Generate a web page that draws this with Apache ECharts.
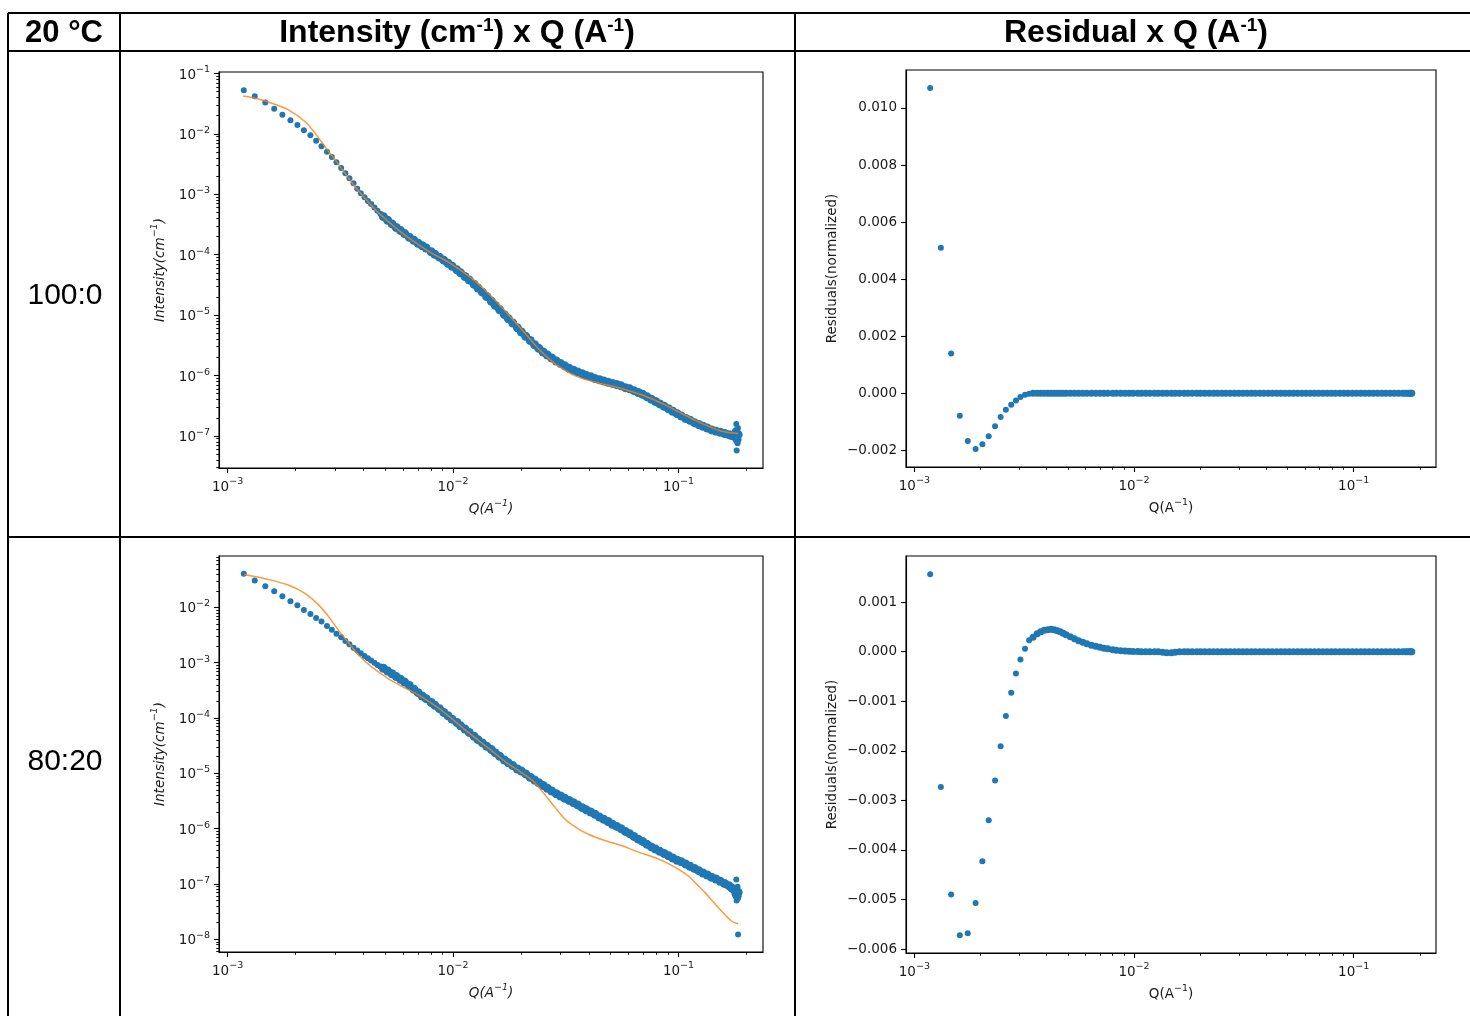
<!DOCTYPE html>
<html><head><meta charset="utf-8">
<script src="https://cdn.jsdelivr.net/npm/echarts@6/dist/echarts.min.js"></script>
<style>html,body{margin:0;padding:0;background:#fff}#c{width:1470px;height:1016px}</style>
</head><body><div id="c"></div>
<script>
// ---------- DATA ----------
const qPts = [
  0.00118, 0.00132, 0.00147, 0.00161, 0.00175, 0.00190, 0.00204, 0.00218, 0.00233, 0.00247,
  0.00261, 0.00276, 0.00290, 0.00304, 0.00319, 0.00333, 0.00347, 0.00362, 0.00376, 0.00390,
  0.00405, 0.00419, 0.00433, 0.00448, 0.00462, 0.00476, 0.00491,
  0.00513, 0.00536, 0.0056, 0.00585, 0.0061, 0.0064, 0.0067, 0.0070, 0.0073, 0.0076,
  0.0080, 0.0083, 0.0087, 0.0091, 0.0095, 0.0099, 0.0104, 0.0108, 0.0113, 0.0118,
  0.0124, 0.0129, 0.0135, 0.0141, 0.0148, 0.0154, 0.0161, 0.0169, 0.0176, 0.0184,
  0.0193, 0.0201, 0.0210, 0.0220, 0.0230, 0.0240, 0.0251, 0.0262, 0.0274, 0.0287,
  0.0300, 0.0313, 0.0327, 0.0342, 0.0357, 0.0374, 0.0390, 0.0408, 0.0426, 0.0446,
  0.0466, 0.0487, 0.0509, 0.0532, 0.0556, 0.0581, 0.0607, 0.0634, 0.0663, 0.0693,
  0.0724, 0.0757, 0.0791, 0.0826, 0.0864, 0.0903, 0.0943, 0.0986, 0.1030, 0.1077,
  0.1125, 0.1176, 0.1229, 0.1284, 0.1342, 0.1402, 0.1466, 0.1532, 0.1601, 0.1673,
  0.1720, 0.1760, 0.1800, 0.1820, 0.1840
];
const int100 = [
  0.0527, 0.0419, 0.0332, 0.0261, 0.0207, 0.0169, 0.0140, 0.0115, 0.0095, 0.00773,
  0.00624, 0.00507, 0.00414, 0.00338, 0.00274, 0.00224, 0.00185, 0.00153, 0.00124, 0.00104,
  8.91e-4, 7.76e-4, 6.92e-4, 6.03e-4, 5.37e-4, 4.79e-4, 4.27e-4,
  3.72e-4, 3.24e-4, 2.82e-4, 2.51e-4, 2.24e-4, 1.95e-4, 1.74e-4, 1.55e-4, 1.41e-4, 1.29e-4,
  1.12e-4, 1.02e-4, 9.12e-5, 8.13e-5, 7.24e-5, 6.46e-5, 5.62e-5, 5.01e-5, 4.37e-5, 3.80e-5,
  3.24e-5, 2.82e-5, 2.40e-5, 2.04e-5, 1.70e-5, 1.45e-5, 1.23e-5, 1.02e-5, 8.71e-6, 7.41e-6,
  6.17e-6, 5.25e-6, 4.47e-6, 3.80e-6, 3.24e-6, 2.82e-6, 2.45e-6, 2.19e-6, 1.95e-6, 1.74e-6,
  1.58e-6, 1.45e-6, 1.32e-6, 1.23e-6, 1.15e-6, 1.07e-6, 1.00e-6, 9.55e-7, 8.91e-7, 8.51e-7,
  8.13e-7, 7.76e-7, 7.41e-7, 7.08e-7, 6.76e-7, 6.31e-7, 6.03e-7, 5.62e-7, 5.25e-7, 4.90e-7,
  4.47e-7, 4.07e-7, 3.72e-7, 3.39e-7, 3.09e-7, 2.82e-7, 2.57e-7, 2.34e-7, 2.14e-7, 1.95e-7,
  1.82e-7, 1.66e-7, 1.55e-7, 1.45e-7, 1.35e-7, 1.26e-7, 1.20e-7, 1.15e-7, 1.10e-7, 1.05e-7,
  1.02e-7, 1.00e-7, 1.17e-7, 8.71e-8, 1.05e-7
];
const int80 = [
  0.0406, 0.0308, 0.0241, 0.0196, 0.01595, 0.0130, 0.0110, 0.00896, 0.0076, 0.00645,
  0.00554, 0.00464, 0.00393, 0.00333, 0.0029, 2.48e-3, 2.16e-3, 1.86e-3, 1.66e-3, 1.48e-3,
  1.32e-3, 1.20e-3, 1.10e-3, 1.00e-3, 9.12e-4, 8.51e-4, 7.94e-4,
  7.08e-4, 6.31e-4, 5.62e-4, 5.01e-4, 4.47e-4, 3.89e-4, 3.31e-4, 2.88e-4, 2.51e-4, 2.24e-4,
  1.91e-4, 1.70e-4, 1.48e-4, 1.26e-4, 1.10e-4, 9.55e-5, 8.32e-5, 7.24e-5, 6.31e-5, 5.50e-5,
  4.68e-5, 4.07e-5, 3.55e-5, 3.09e-5, 2.69e-5, 2.34e-5, 2.04e-5, 1.74e-5, 1.55e-5, 1.38e-5,
  1.20e-5, 1.10e-5, 9.77e-6, 8.51e-6, 7.59e-6, 6.76e-6, 6.03e-6, 5.37e-6, 4.79e-6, 4.27e-6,
  3.89e-6, 3.55e-6, 3.24e-6, 2.95e-6, 2.69e-6, 2.40e-6, 2.19e-6, 2.00e-6, 1.82e-6, 1.62e-6,
  1.48e-6, 1.35e-6, 1.20e-6, 1.10e-6, 1.00e-6, 8.91e-7, 8.13e-7, 7.24e-7, 6.46e-7, 5.89e-7,
  5.25e-7, 4.68e-7, 4.27e-7, 3.89e-7, 3.55e-7, 3.24e-7, 2.95e-7, 2.69e-7, 2.51e-7, 2.29e-7,
  2.09e-7, 1.91e-7, 1.74e-7, 1.58e-7, 1.45e-7, 1.32e-7, 1.23e-7, 1.12e-7, 1.02e-7, 9.33e-8,
  8.51e-8, 7.94e-8, 6.61e-8, 6.03e-8, 7.08e-8
];
const res100 = [
  0.0107, 0.0051, 0.0014, -0.00078, -0.00167, -0.00195, -0.00178, -0.0015, -0.00115, -0.00083,
  -0.00057, -0.0004, -0.00025, -0.00013, -0.00005, -0.00001, 0, 0, 0, 0,
  0, 0, 0, 0, 0, 0, 0,
  0, 0, 0, 0, 0, 0, 0, 0, 0, 0,
  0, 0, 0, 0, 0, 0, 0, 0, 0, 0,
  0, 0, 0, 0, 0, 0, 0, 0, 0, 0,
  0, 0, 0, 0, 0, 0, 0, 0, 0, 0,
  0, 0, 0, 0, 0, 0, 0, 0, 0, 0,
  0, 0, 0, 0, 0, 0, 0, 0, 0, 0,
  0, 0, 0, 0, 0, 0, 0, 0, 0, 0,
  0, 0, 0, 0, 0, 0, 0, 0, 0, 0,
  0, 0, 0, 0, 0
];
const res80 = [
  0.00156, -0.00273, -0.0049, -0.00572, -0.00568, -0.00507, -0.00423, -0.0034, -0.0026, -0.00191,
  -0.0013, -0.00083, -0.00044, -0.00016, 0.00006, 0.00023, 0.00029, 0.00036, 0.0004, 0.00043,
  0.00044, 0.00045, 0.00044, 0.00042, 0.0004, 0.00037, 0.00034,
  0.0003, 0.00026, 0.00022, 0.00019, 0.00016, 0.00013, 0.00011, 0.00009, 0.00007, 0.00006,
  0.00004, 0.00003, 0.00002, 0.000015, 0.00001, 0.000005, 0.000003, 0, 0, 0,
  0, 0, -0.00001, -0.00002, -0.00002, -0.00001, 0, 0, 0, 0,
  0, 0, 0, 0, 0, 0, 0, 0, 0, 0,
  0, 0, 0, 0, 0, 0, 0, 0, 0, 0,
  0, 0, 0, 0, 0, 0, 0, 0, 0, 0,
  0, 0, 0, 0, 0, 0, 0, 0, 0, 0,
  0, 0, 0, 0, 0, 0, 0, 0, 0, 0,
  0, 0, 0, 0, 0
];
// scattered points at the very end of the Q range
const qEnd = [0.1805, 0.1812, 0.1828, 0.1835, 0.1838];
const int100End = [1.58e-7, 5.75e-8, 7.59e-8, 1.35e-7, 9.33e-8];
const int80End = [1.20e-7, 5.01e-8, 8.91e-8, 5.50e-8, 1.22e-8];
// model fits (orange)
const fitQ100 = [0.00117, 0.00133, 0.00157, 0.00187, 0.00221, 0.00245, 0.00271, 0.00301, 0.00333, 0.00369,
  0.0041, 0.0046, 0.0052, 0.006, 0.007, 0.008, 0.009, 0.010, 0.012, 0.014, 0.016, 0.018, 0.020, 0.022, 0.024,
  0.027, 0.030, 0.035, 0.040, 0.045, 0.050, 0.060, 0.070, 0.080, 0.090, 0.100, 0.120, 0.140, 0.160, 0.184];
const fitI100 = [0.0424, 0.0388, 0.0321, 0.0248, 0.0159, 0.0101, 0.0061, 0.00365, 0.00219, 0.00132,
  8.32e-4, 5.25e-4, 3.47e-4, 2.24e-4, 1.48e-4, 1.07e-4, 8.51e-5, 6.76e-5, 4.17e-5, 2.51e-5, 1.51e-5, 9.33e-6, 6.03e-6, 3.98e-6, 2.75e-6,
  1.82e-6, 1.35e-6, 9.77e-7, 8.32e-7, 7.41e-7, 6.76e-7, 5.62e-7, 4.68e-7, 3.80e-7, 3.09e-7, 2.51e-7, 1.78e-7, 1.38e-7, 1.17e-7, 1.10e-7];
const fitQ80 = [0.00118, 0.00147, 0.00187, 0.00221, 0.00254, 0.00281, 0.0031, 0.00344, 0.00381, 0.00437,
  0.00518, 0.00614, 0.00728, 0.00863, 0.0102, 0.0121, 0.0144, 0.0171, 0.0202, 0.0224, 0.024, 0.0263, 0.0284,
  0.0316, 0.0355, 0.0398, 0.0468, 0.0562, 0.0661, 0.0794, 0.0912, 0.1023, 0.111, 0.120, 0.132, 0.1445, 0.1585, 0.1718, 0.184];
const fitI80 = [0.0394, 0.0330, 0.0251, 0.0178, 0.0110, 6.76e-3, 3.89e-3, 2.29e-3, 1.38e-3, 8.32e-4,
  5.13e-4, 3.47e-4, 2.40e-4, 1.51e-4, 8.71e-5, 4.90e-5, 2.82e-5, 1.62e-5, 1.02e-5, 7.59e-6, 5.62e-6, 3.55e-6, 2.40e-6,
  1.45e-6, 1.02e-6, 7.94e-7, 6.17e-7, 4.90e-7, 3.80e-7, 2.95e-7, 2.29e-7, 1.74e-7, 1.38e-7, 1.00e-7, 6.76e-8, 4.47e-8, 2.95e-8, 2.14e-8, 1.91e-8];

// ticks
const xMajorTicks = [0.001, 0.01, 0.1];
const yMajorTop = [1e-7, 1e-6, 1e-5, 1e-4, 1e-3, 1e-2, 1e-1];
const yMajorBottom = [1e-8, 1e-7, 1e-6, 1e-5, 1e-4, 1e-3, 1e-2];
const resTicksTop = [-0.002, 0, 0.002, 0.004, 0.006, 0.008, 0.010];
const resTicksBottom = [-0.006, -0.005, -0.004, -0.003, -0.002, -0.001, 0, 0.001];
const rowLabels = ['100:0', '80:20'];
const cornerLabel = '20 °C';

// ---------- STYLE / LAYOUT ----------
const FONT = 'DejaVu Sans';
const TXT = '#1a1a1a';
const BLUE = '#1f77b4', ORANGE = '#ff7f0e';
const X_MIN = 0.000916, X_MAX = 0.2371;
const ext = {
  top: [2.95e-8, 0.1059],
  bottom: [5.89e-9, 0.0851],
  resTop: [-0.00258, 0.01133],
  resBottom: [-0.00608, 0.00193]
};
const grids = [
  {left: 219, top: 72, width: 544, height: 396},
  {left: 906, top: 70, width: 530, height: 397},
  {left: 219, top: 556, width: 544, height: 396},
  {left: 906, top: 556, width: 530, height: 397}
];

function minorTicks(lo, hi) {
  const out = [];
  for (let e = Math.floor(Math.log10(lo)); e <= Math.ceil(Math.log10(hi)); e++) {
    for (let m = 2; m <= 9; m++) {
      const v = m * Math.pow(10, e);
      if (v >= lo && v <= hi) out.push(v);
    }
  }
  return out;
}
function expLabel(v) {
  const e = Math.round(Math.log10(v));
  return '{b|10}{s|' + (e < 0 ? '\u2212' : '') + Math.abs(e) + '}';
}
function resLabel(v) {
  return (v < 0 ? '\u2212' : '') + Math.abs(v).toFixed(3);
}
const richExp = {
  b: {fontSize: 13.5, fontFamily: FONT, color: TXT, verticalAlign: 'bottom'},
  s: {fontSize: 9.5, fontFamily: FONT, color: TXT, verticalAlign: 'top', padding: [0, 0, 7, 0]}
};
function richName(italic) {
  return {
    n: {fontSize: 13.5, fontFamily: FONT, color: TXT, fontStyle: italic ? 'italic' : 'normal', verticalAlign: 'bottom'},
    s: {fontSize: 9.5, fontFamily: FONT, color: TXT, fontStyle: italic ? 'italic' : 'normal', verticalAlign: 'top', padding: [0, 0, 7, 0]}
  };
}
const tickLine = {color: '#000', width: 1.1};

function logMajor(dim, gi, lo, hi, majors, extra) {
  return Object.assign({
    type: 'log', logBase: 10, gridIndex: gi, min: lo, max: hi,
    position: dim === 'x' ? 'bottom' : 'left', offset: 0,
    axisLine: {show: true, onZero: false, lineStyle: {color: '#000', width: 1.1}},
    axisTick: {show: true, length: 5, lineStyle: tickLine, customValues: majors},
    axisLabel: {show: true, customValues: majors, formatter: expLabel, rich: richExp, margin: 9,
      fontSize: 13.5, fontFamily: FONT, color: TXT},
    minorTick: {show: false}, splitLine: {show: false}
  }, extra || {});
}
function logMinor(dim, gi, lo, hi) {
  return {
    type: 'log', logBase: 10, gridIndex: gi, min: lo, max: hi,
    position: dim === 'x' ? 'bottom' : 'left', offset: 0,
    axisLine: {show: false, onZero: false},
    axisTick: {show: true, length: 2.8, lineStyle: {color: '#000', width: 0.9}, customValues: minorTicks(lo, hi)},
    axisLabel: {show: false}, splitLine: {show: false}
  };
}
function xName(italic) {
  return {
    name: '{n|Q(A}{s|\u22121}{n|)}', nameLocation: 'middle', nameGap: 31,
    nameTextStyle: {rich: richName(italic)}
  };
}

const xAxes = [];
const yAxes = [];
// x axes: pairs (major, minor) for grids 0..3
for (let g = 0; g < 4; g++) {
  xAxes.push(logMajor('x', g, X_MIN, X_MAX, xMajorTicks, xName(g % 2 === 0)));
  xAxes.push(logMinor('x', g, X_MIN, X_MAX));
}
// y axes
const yNameInt = {
  name: '{n|Intensity(cm}{s|\u22121}{n|)}', nameLocation: 'middle', nameGap: 52,
  nameTextStyle: {rich: richName(true)}
};
const yNameRes = {
  name: 'Residuals(normalized)', nameLocation: 'middle', nameGap: 67,
  nameTextStyle: {fontSize: 13.5, fontFamily: FONT, color: TXT}
};
function valueRes(gi, range, ticks) {
  return Object.assign({
    type: 'value', gridIndex: gi, min: range[0], max: range[1], position: 'left', offset: 0,
    axisLine: {show: true, onZero: false, lineStyle: {color: '#000', width: 1.1}},
    axisTick: {show: true, length: 5, lineStyle: tickLine, customValues: ticks},
    axisLabel: {show: true, customValues: ticks, formatter: resLabel, margin: 9,
      fontSize: 13.5, fontFamily: FONT, color: TXT},
    splitLine: {show: false}
  }, yNameRes);
}
yAxes.push(logMajor('y', 0, ext.top[0], ext.top[1], yMajorTop, yNameInt));       // 0
yAxes.push(logMinor('y', 0, ext.top[0], ext.top[1]));                           // 1
yAxes.push(valueRes(1, ext.resTop, resTicksTop));                               // 2
yAxes.push(logMajor('y', 2, ext.bottom[0], ext.bottom[1], yMajorBottom, yNameInt)); // 3
yAxes.push(logMinor('y', 2, ext.bottom[0], ext.bottom[1]));                     // 4
yAxes.push(valueRes(3, ext.resBottom, resTicksBottom));                         // 5

function pairs(xs, ys) { return xs.map((x, i) => [x, ys[i]]); }
// early (well separated) points and the end outliers are drawn smaller than the dense band
function sizeIntensity(v, p) { return (p && p.dataIndex >= qPts.length) || v[0] < 0.0049 ? 6 : 9; }
function sizeResidual(v) { return v[0] < 0.0034 ? 6 : 7; }
function scatter(xi, yi, data, sizeFn) {
  return {type: 'scatter', xAxisIndex: xi, yAxisIndex: yi, data: data, symbol: 'circle', symbolSize: sizeFn,
    itemStyle: {color: BLUE, opacity: 1}, z: 2, silent: true};
}
function fitLine(xi, yi, data) {
  return {type: 'line', xAxisIndex: xi, yAxisIndex: yi, data: data, showSymbol: false, symbol: 'none',
    smooth: 0.35, lineStyle: {color: ORANGE, width: 1.5, opacity: 0.8}, z: 3, silent: true};
}
const series = [
  scatter(0, 0, pairs(qPts, int100).concat(pairs(qEnd, int100End)), sizeIntensity),
  fitLine(0, 0, pairs(fitQ100, fitI100)),
  scatter(2, 2, pairs(qPts, res100), sizeResidual),
  scatter(4, 3, pairs(qPts, int80).concat(pairs(qEnd, int80End)), sizeIntensity),
  fitLine(4, 3, pairs(fitQ80, fitI80)),
  scatter(6, 5, pairs(qPts, res80), sizeResidual)
];

// table frame + header texts
const LW = 2;
function L(x1, y1, x2, y2) {
  return {type: 'line', shape: {x1, y1, x2, y2}, style: {stroke: '#000', lineWidth: LW}, silent: true, z: 100};
}
const hdrRich = {
  h: {fontSize: 32, fontWeight: 'bold', fontFamily: 'Liberation Sans', fill: '#000', verticalAlign: 'bottom'},
  s: {fontSize: 19, fontWeight: 'bold', fontFamily: 'Liberation Sans', fill: '#000', verticalAlign: 'top', padding: [0, 0, 14, 0]}
};
function T(text, x, y, opts) {
  return {type: 'text', x: x, y: y, silent: true, z: 100,
    style: Object.assign({text: text, align: 'center', verticalAlign: 'middle', textAlign: 'center', textVerticalAlign: 'middle', fill: '#000'}, opts)};
}
const graphics = [
  L(8, 13, 1470, 13), L(8, 51, 1470, 51), L(8, 537, 1470, 537),
  L(8, 13, 8, 1016), L(120, 13, 120, 1016), L(795, 13, 795, 1016),
  T(cornerLabel, 64, 33, {font: 'bold 31px "Liberation Sans", Arial, sans-serif'}),
  T('{h|Intensity (cm}{s|-1}{h|) x Q (A}{s|-1}{h|)}', 457, 33, {rich: hdrRich, font: 'bold 32px "Liberation Sans"'}),
  T('{h|Residual x Q (A}{s|-1}{h|)}', 1136, 33, {rich: hdrRich, font: 'bold 32px "Liberation Sans"'}),
  T(rowLabels[0], 65, 296, {font: '30px "Liberation Sans", Arial, sans-serif'}),
  T(rowLabels[1], 65, 762, {font: '30px "Liberation Sans", Arial, sans-serif'})
];

const chart = echarts.init(document.getElementById('c'), null, {renderer: 'canvas', width: 1470, height: 1016});
chart.setOption({
  animation: false,
  backgroundColor: '#fff',
  grid: grids.map(g => Object.assign({show: true, borderColor: '#000', borderWidth: 1.1, backgroundColor: 'rgba(0,0,0,0)',
    containLabel: false, outerBoundsMode: 'none'}, g)),
  xAxis: xAxes,
  yAxis: yAxes,
  series: series,
  graphic: graphics
});
</script></body></html>
